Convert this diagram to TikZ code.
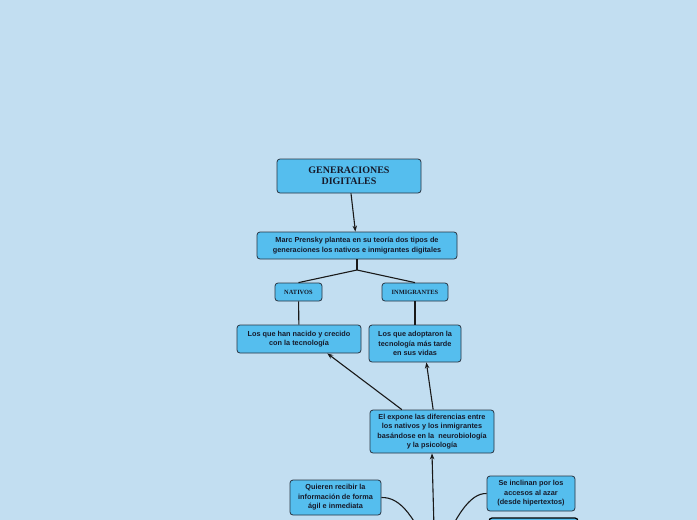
\documentclass[tikz,border=0pt]{standalone}
\usepackage{fontspec}
\setmainfont{Liberation Serif}
\setsansfont{Liberation Sans}
\usetikzlibrary{arrows.meta, positioning, calc}
\definecolor{bgblue}{RGB}{194, 222, 241}
\definecolor{boxblue}{RGB}{85, 190, 238}
\definecolor{boxedge}{RGB}{40, 52, 66}
\definecolor{inktext}{RGB}{22, 26, 42}

\begin{document}
\begin{tikzpicture}[x=1pt, y=-1pt,
        box/.style={draw=boxedge, fill=boxblue, rounded corners=3pt, line width=0.8pt, align=center, text=inktext, inner sep=0pt},
        info/.style={box, font=\sffamily\bfseries\fontsize{7.3}{9.4}\selectfont},
        tag/.style={box, font=\bfseries\fontsize{6.4}{7.5}\selectfont},
        link/.style={line width=1.1pt, black!90},
        >={Stealth[length=6pt, width=4.5pt]}]
        \fill[bgblue] (0,0) rectangle (697,520);
        \useasboundingbox (0,0) rectangle (697,520);
        \clip (0,0) rectangle (697,520);

        \node[box, minimum width=144pt, minimum height=34pt, font=\bfseries\fontsize{10}{11}\selectfont] (gen) at (349,176) {GENERACIONES\\DIGITALES};
        \node[info, minimum width=200pt, minimum height=27pt] (marc) at (357,245.5) {Marc Prensky plantea en su teoría dos tipos de\\generaciones los nativos e inmigrantes digitales};
        \node[tag, minimum width=47pt, minimum height=18pt] (nat) at (298.5,292) {NATIVOS};
        \node[tag, minimum width=66pt, minimum height=18pt] (inm) at (415,292) {INMIGRANTES};
        \node[info, minimum width=124pt, minimum height=28pt] (nac) at (299,339) {Los que han nacido y crecido\\con la tecnología};
        \node[info, minimum width=92pt, minimum height=37pt] (ado) at (415,343.5) {Los que adoptaron la\\tecnología más tarde\\en sus vidas};
        \node[info, minimum width=124pt, minimum height=43pt] (exp) at (432,431.5) {El expone las diferencias entre\\los nativos y los inmigrantes\\basándose en la\ \ neurobiología\\y la psicología};
        \node[info, minimum width=91pt, minimum height=35pt] (qui) at (335.5,497.5) {Quieren recibir la\\información de forma\\ágil e inmediata};
        \node[info, minimum width=88pt, minimum height=35pt] (inc) at (531,493.5) {Se inclinan por los\\accesos al azar\\(desde hipertextos)};
        \node[box, draw=black, line width=1.2pt, minimum width=89pt, minimum height=34pt] (low) at (533.5,535) {};

        % ramas
        \coordinate (split) at (357,270);
        \coordinate (hub) at (435,565);

        \draw[link, ->] (gen) -- (marc);
        \draw[link] (marc.south) -- (split);
        \draw[link] (split) -- (nat.north);
        \draw[link] (split) -- (inm.north);
        \draw[link] (nat) -- (nac);
        \draw[link] (inm) -- (ado);
        \draw[link, ->] (exp.144) -- (nac.-27);
        \draw[link, ->] (exp.87) -- (ado.-59);
        \draw[link, ->] (hub) -- (exp.south);
        \draw[link] (qui.east) .. controls (400,497) and (415,515) .. (hub);
        \draw[link] (inc.west) .. controls (470,493) and (455,515) .. (hub);
    \end{tikzpicture}
\end{document}
